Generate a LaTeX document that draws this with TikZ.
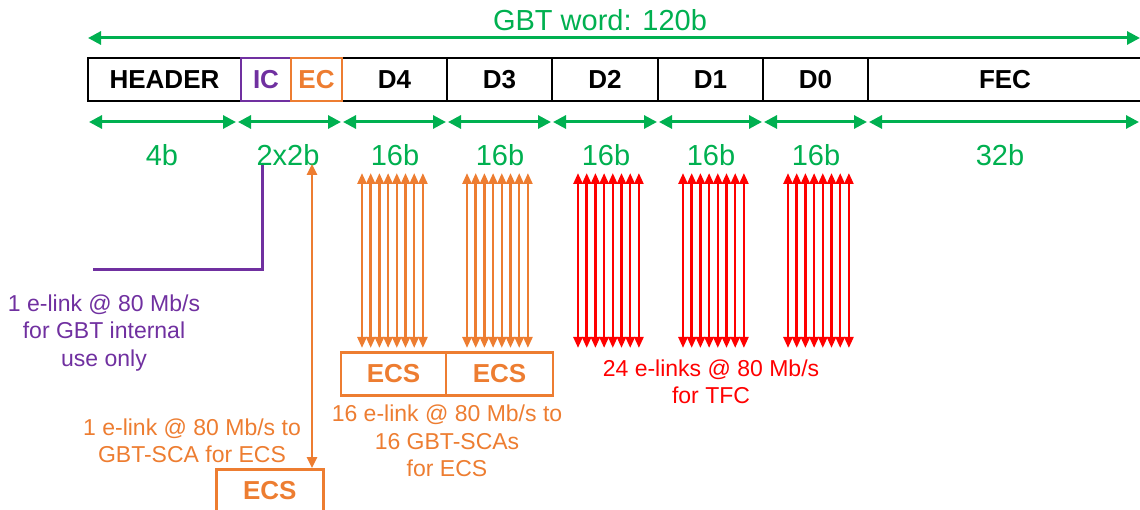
\documentclass[tikz,border=0pt]{standalone}
\usepackage{fontspec}
\setmainfont{Liberation Sans}
\usetikzlibrary{arrows.meta}
\definecolor{gG}{HTML}{00B050}
\definecolor{pP}{HTML}{7030A0}
\definecolor{oO}{HTML}{ED7D31}
\definecolor{rR}{HTML}{FF0000}
\begin{document}
\begin{tikzpicture}[x=1pt,y=-1pt,
  cell/.style={draw=black,line width=2.5pt,inner sep=0pt,minimum height=43pt,font=\fontsize{26}{26}\selectfont\bfseries},
  dimarrow/.style={gG,line width=3pt,{Triangle[length=13pt,width=13pt]}-{Triangle[length=13pt,width=13pt]}},
  dimlabel/.style={gG,font=\fontsize{29}{29}\selectfont},
  wire/.style={line width=2.5pt,{Triangle[length=11pt,width=9pt]}-{Triangle[length=11pt,width=9pt]}},
  ecsbox/.style={draw=oO,line width=2.5pt,inner sep=0pt,minimum height=43pt,text=oO,font=\fontsize{26}{26}\selectfont\bfseries},
  note/.style={align=center,font=\fontsize{23}{27.5}\selectfont}]
\useasboundingbox (0,0) rectangle (1140,510);
% title
\node[dimlabel] (title) at (600,20) {GBT word: 120b};
\coordinate (tl) at (88,38);
\coordinate (tr) at (1140,38);
\draw[dimarrow] (tl) -- (tr);
% cells
\node[cell,minimum width=153pt] (hdr) at (164.5,79.5) {HEADER};
\node[cell,minimum width=105pt] (d4) at (394.5,79.5) {D4};
\node[cell,minimum width=105pt] (d3) at (499.5,79.5) {D3};
\node[cell,minimum width=106pt] (d2) at (605,79.5) {D2};
\node[cell,minimum width=105pt] (d1) at (710.5,79.5) {D1};
\node[cell,minimum width=105pt] (d0) at (815.5,79.5) {D0};
\node[cell,minimum width=274pt] (fec) at (1005,79.5) {FEC};
\node[cell,draw=pP,text=pP,minimum width=50pt] (ic) at (266,79.5) {IC};
\node[cell,draw=oO,text=oO,minimum width=51pt] (ec) at (316.5,79.5) {EC};
% dimension arrows
\foreach \n/\x in {0/88,1/237,2/342,3/447,4/552,5/658,6/763,7/868,8/1140}
  \coordinate (b\n) at (\x,122);
\foreach \a/\b in {0/1,1/2,2/3,3/4,4/5,5/6,6/7,7/8}
  \draw[dimarrow,shorten <=1pt,shorten >=1pt] (b\a) -- (b\b);
\node[dimlabel] (l0) at (162,155) {4b};
\node[dimlabel] (l1) at (288,155) {2x2b};
\node[dimlabel] (l2) at (395,155) {16b};
\node[dimlabel] (l3) at (500,155) {16b};
\node[dimlabel] (l4) at (606,155) {16b};
\node[dimlabel] (l5) at (711,155) {16b};
\node[dimlabel] (l6) at (816,155) {16b};
\node[dimlabel] (l7) at (1000,155) {32b};
% IC purple link
\coordinate (pa) at (262,165);
\coordinate (pb) at (262,270);
\coordinate (pc) at (93,270);
\draw[pP,line width=3pt] (pa) -- (pb) -- (pc);
\node[note,text=pP] (icnote) at (104,333) {1 e-link @ 80 Mb/s\\for GBT internal\\use only};
% EC orange link
\node[ecsbox,minimum width=107pt,anchor=north west] (ecs0) at (215,468) {ECS};
\coordinate (ea) at (312,164);
\draw[oO,line width=2.5pt,{Triangle[length=11pt,width=10pt]}-{Triangle[length=11pt,width=10pt]}] (ea) -- (ecs0.north -| ea);
\node[note,text=oO] (ecnote) at (192,441) {1 e-link @ 80 Mb/s to\\GBT-SCA for ECS};
% ECS boxes for D4, D3
\node[ecsbox,minimum width=105pt] (ecs1) at (393.5,374) {ECS};
\node[ecsbox,minimum width=107pt] (ecs2) at (499.5,374) {ECS};
% bundles
\foreach \xs/\c in {362/oO,467/oO,578/rR,683/rR,788/rR}{
  \foreach \i in {0,...,7}{
    \coordinate (wt) at ({\xs+\i*8.7},173);
    \coordinate (wb) at ({\xs+\i*8.7},348);
    \draw[wire,\c] (wt) -- (wb);
  }
}
\node[note,text=oO] (d4note) at (447,441) {16 e-link @ 80 Mb/s to\\16 GBT-SCAs\\for ECS};
\node[note,text=rR] (tfcnote) at (711,382) {24 e-links @ 80 Mb/s\\for TFC};
\end{tikzpicture}
\end{document}
